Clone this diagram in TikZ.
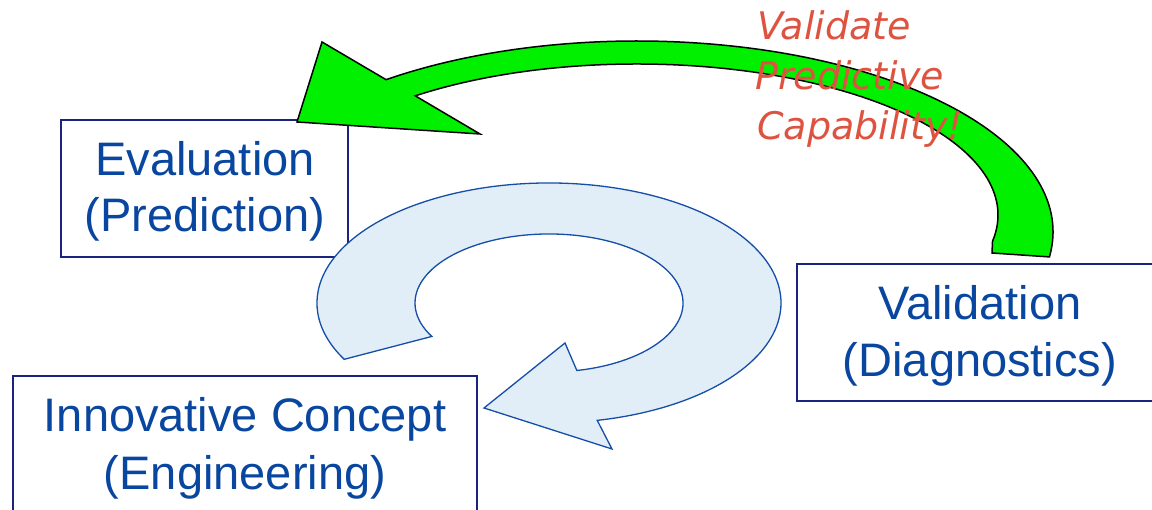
\documentclass[tikz,border=0pt]{standalone}
\usepackage{fontspec}
\setmainfont{Liberation Sans}
\newfontfamily\redfont{DejaVu Sans}
\definecolor{txtblue}{RGB}{8,70,160}
\definecolor{boxnavy}{RGB}{26,35,126}
\definecolor{ringfill}{RGB}{225,237,247}
\definecolor{ringline}{RGB}{20,78,168}
\definecolor{brightgreen}{RGB}{0,240,0}
\definecolor{notered}{RGB}{222,83,64}
\tikzset{
  stagebox/.style={draw=boxnavy, line width=1.8pt, fill=white, inner sep=0pt},
  bluetext/.style={text=txtblue, inner sep=0pt, anchor=base, font=\fontsize{47}{56}\selectfont},
  redtext/.style={text=notered, inner sep=0pt, anchor=base west, font=\redfont\itshape\fontsize{38}{50}\selectfont},
  ring/.style={draw=ringline, line width=1.3pt, fill=ringfill, line join=miter},
  greenarrow/.style={draw=black, line width=1.5pt, fill=brightgreen, line join=miter}
}
\begin{document}
\begin{tikzpicture}[x=1pt,y=1pt]
\useasboundingbox (0,0) rectangle (1152,510);
\clip (0,0) rectangle (1152,510);
% boxes
\node[stagebox, minimum width=287, minimum height=137] (eval) at (204.5,321.5) {};
\node[stagebox, minimum width=380, minimum height=137] (valid) at (987,177.5) {};
\node[stagebox, minimum width=464, minimum height=160] (innov) at (245,54) {};
% box texts
\node[bluetext] (evalA) at (205,334) {Evaluation};
\node[bluetext] (evalB) at (205,278) {(Prediction)};
\node[bluetext] (validA) at (980,190) {Validation};
\node[bluetext] (validB) at (980,133) {(Diagnostics)};
\node[bluetext] (innovA) at (245,78) {Innovative Concept};
\node[bluetext] (innovB) at (245,20) {(Engineering)};
% circular arrow
\draw[ring] ([shift={(549,207)}]208:232 and 120)
  arc[start angle=208, end angle=-78, x radius=232, y radius=120]
  -- (612,61) -- (484,102) -- (565,167)
  -- ([shift={(549,207)}]-78:134 and 69)
  arc[start angle=-78, end angle=209, x radius=134, y radius=69]
  -- cycle;
% green arrow
\draw[greenarrow] ([shift={(637,278)}]-7.5:416 and 191)
  arc[start angle=-7.5, end angle=127.1, x radius=416, y radius=191]
  -- (322,468) -- (297,388) -- (480,376)
  -- ([shift={(637,295)}]127.9:361 and 151)
  arc[start angle=127.9, end angle=-10, x radius=361, y radius=151]
  -- (992,257)
  -- cycle;
% red note
\node[redtext] (noteA) at (757,470) {Validate};
\node[redtext] (noteB) at (755,420) {Predictive};
\node[redtext] (noteC) at (757,370) {Capability!};
\end{tikzpicture}
\end{document}
